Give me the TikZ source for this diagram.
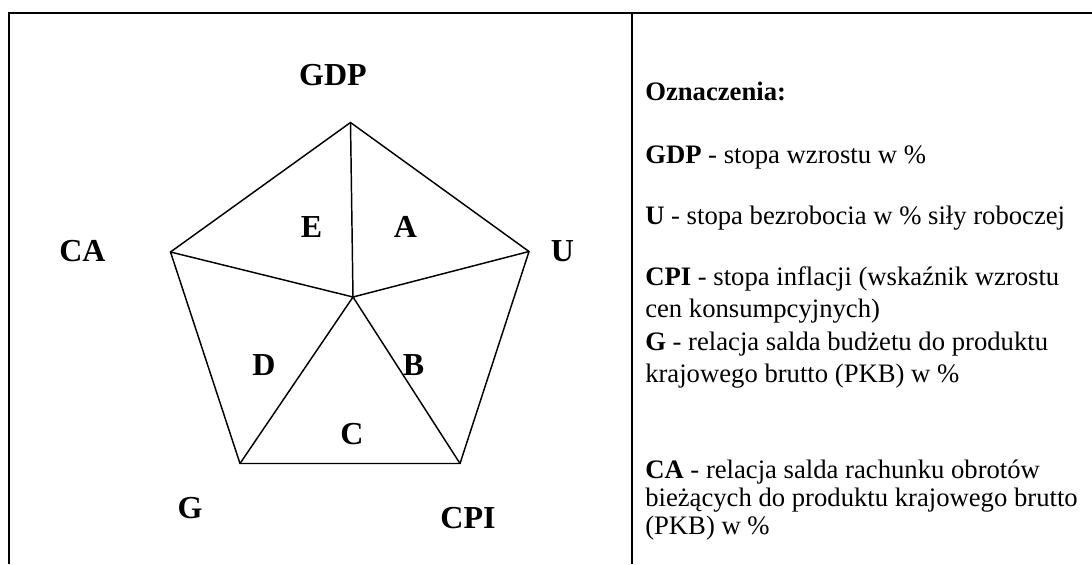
\documentclass[tikz,border=0pt]{standalone}
\usepackage{fontspec}
\setmainfont{Liberation Serif}

\begin{document}
\begin{tikzpicture}[x=0.75pt,y=-0.75pt,
  lbl/.style={font=\fontsize{24}{28}\selectfont\bfseries,anchor=base,inner sep=0pt},
  legend/.style={font=\fontsize{20}{24}\selectfont,anchor=base west,inner sep=0pt,align=left}]
\useasboundingbox (0,0) rectangle (1092,564);
% frame
\draw[line width=1.5pt] (9,564) -- (9,12.5) -- (1092,12.5);
\draw[line width=1.1pt] (632,12.5) -- (632,564);
% pentagon
\coordinate (gdp) at (350.5,122.5);
\coordinate (u) at (529,251.5);
\coordinate (cpi) at (460,463.5);
\coordinate (g) at (240,463.5);
\coordinate (ca) at (170.5,252);
\coordinate (ctr) at (353,297);
\draw[line width=1.1pt] (gdp) -- (u) -- (cpi) -- (g) -- (ca) -- cycle;
\draw[line width=1.1pt] (ctr) -- (gdp) (ctr) -- (u) (ctr) -- (cpi) (ctr) -- (g) (ctr) -- (ca);
% labels
\node[lbl] (lgdp) at (333,85) {GDP};
\node[lbl] (lu) at (562.5,261) {U};
\node[lbl] (lcpi) at (468,528) {CPI};
\node[lbl] (lg) at (190,518) {G};
\node[lbl] (lca) at (82.5,261) {CA};
\node[lbl] (la) at (405.5,237) {A};
\node[lbl] (lb) at (413.5,375) {B};
\node[lbl] (lc) at (352,444) {C};
\node[lbl] (ld) at (264,375) {D};
\node[lbl] (le) at (311.5,237) {E};
% legend (base = last line)
\node[legend] (oz) at (645,100) {\textbf{Oznaczenia:}};
\node[legend] (tgdp) at (645,163) {\textbf{GDP} - stopa wzrostu w \%};
\node[legend] (tu) at (645,224) {\textbf{U} - stopa bezrobocia w \% siły roboczej};
\node[legend] (tcpi) at (645,317) {\textbf{CPI} - stopa inflacji (wskaźnik wzrostu\\cen konsumpcyjnych)};
\node[legend] (tg) at (645,382) {\textbf{G} - relacja salda budżetu do produktu\\krajowego brutto (PKB) w \%};
\node[legend,font=\fontsize{20}{21}\selectfont] (tca) at (645,534) {\textbf{CA} - relacja salda rachunku obrotów\\bieżących do produktu krajowego brutto\\(PKB) w \%};
\end{tikzpicture}
\end{document}
